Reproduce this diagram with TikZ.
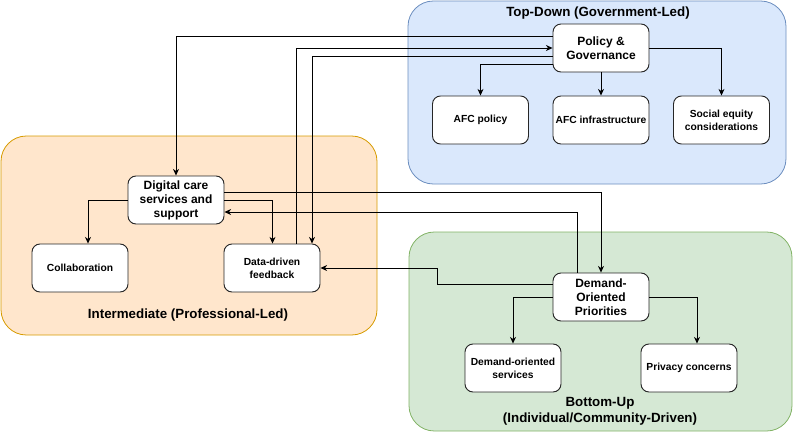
\documentclass[tikz,border=0pt]{standalone}
\usepackage{fontspec}
\setmainfont{Liberation Sans}
\usetikzlibrary{arrows.meta}
\definecolor{bluefill}{HTML}{DAE8FC}
\definecolor{bluedraw}{HTML}{6C8EBF}
\definecolor{orangefill}{HTML}{FFE6CC}
\definecolor{orangedraw}{HTML}{D79B00}
\definecolor{greenfill}{HTML}{D5E8D4}
\definecolor{greendraw}{HTML}{82B366}
\tikzset{
	group/.style={rounded corners=19pt,line width=0.6pt},
	grouptitle/.style={font=\bfseries\fontsize{10}{12}\selectfont,align=center},
	mainbox/.style={draw=black!85,fill=white,rounded corners=6pt,line width=0.7pt,
		minimum width=72pt,minimum height=36pt,inner sep=1pt,align=center,
		font=\bfseries\fontsize{9}{10.5}\selectfont},
	subbox/.style={mainbox,font=\bfseries\fontsize{7.7}{9.5}\selectfont},
	conn/.style={line width=0.6pt,-{Stealth[length=5pt,width=4.5pt]}},
}
\begin{document}
\begin{tikzpicture}[x=0.75pt,y=-0.75pt]
				\useasboundingbox (0,0) rectangle (794,433);
				% groups
				\draw [group,fill=bluefill,draw=bluedraw] (408,1) rectangle (786,184);
				\draw [group,fill=orangefill,draw=orangedraw] (1,136) rectangle (377,335);
				\draw [group,fill=greenfill,draw=greendraw] (409,232) rectangle (792,431);
				\node [grouptitle] (ttop) at (598,13) {Top-Down (Government-Led)};
				\node [grouptitle] (tmid) at (188,315) {Intermediate (Professional-Led)};
				\node [grouptitle] (tbot) at (600,411) {Bottom-Up\\(Individual/Community-Driven)};
				% top-down
				\node [mainbox] (pol) at (601,48) {Policy \&\\Governance};
				\node [subbox] (afc) at (480.5,120) {AFC policy};
				\node [subbox] (inf) at (601,120) {AFC infrastructure};
				\node [subbox] (soc) at (721.5,120) {Social equity\\considerations};
				% intermediate
				\node [mainbox] (dig) at (176,200) {Digital care\\services and\\support};
				\node [subbox] (col) at (80,268) {Collaboration};
				\node [subbox] (ddf) at (272,268) {Data-driven\\feedback};
				% bottom-up
				\node [mainbox] (dem) at (601,297) {Demand-\\Oriented\\Priorities};
				\node [subbox] (srv) at (513,368) {Demand-oriented\\services};
				\node [subbox] (prv) at (689,368) {Privacy concerns};
				% connectors
				\draw [conn] (pol.west |- 0,36) -| (dig.north);
				\draw [conn] (ddf.north -| 296,0) |- (pol.west);
				\draw [conn] (pol.west |- 0,56.5) -| (ddf.north -| 312,0);
				\draw [conn] (pol.west |- 0,64) -| (afc.north);
				\draw [conn] (pol.south) -- (inf.north);
				\draw [conn] (pol.east) -| (soc.north);
				\draw [conn] (dig.east |- 0,192) -| (dem.north);
				\draw [conn] (dem.north -| 577,0) |- (dig.east |- 0,212);
				\draw [conn] (dig.east |- 0,200) -| (ddf.north -| 272.5,0);
				\draw [conn] (dig.west |- 0,200) -| (col.north -| 88,0);
				\draw [conn] (dem.west |- 0,284) -| (437,268) -- (ddf.east);
				\draw [conn] (dem.west |- 0,297) -| (srv.north);
				\draw [conn] (dem.east |- 0,297) -| (prv.north -| 697,0);
			\end{tikzpicture}
\end{document}
